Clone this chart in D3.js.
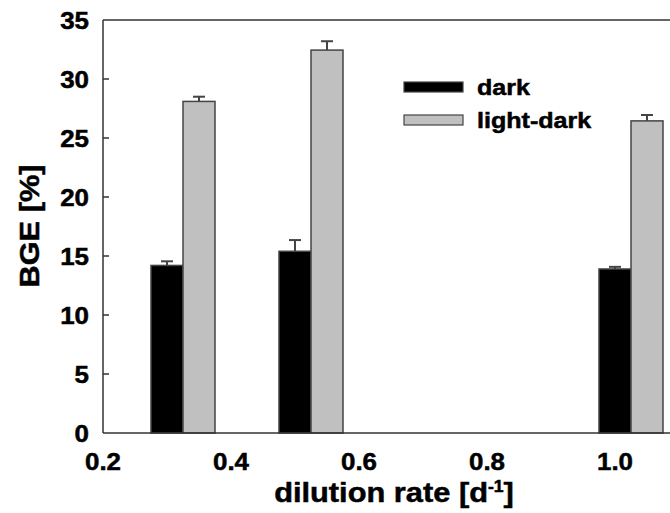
<!DOCTYPE html>
<html><head><meta charset="utf-8">
<script src="https://cdn.jsdelivr.net/npm/d3@7"></script>
<style>html,body{margin:0;padding:0;background:#fff;}svg{display:block;}</style>
</head><body>
<svg id="c" width="670" height="513"></svg>
<script>
const dilution = [0.3, 0.5, 1.0];
const darkValues = [14.2, 15.4, 13.9];
const darkErrors = [0.35, 0.95, 0.18];
const lightValues = [28.1, 32.45, 26.45];
const lightErrors = [0.4, 0.75, 0.5];
const seriesNames = ["dark", "light-dark"];
const yTicks = [0, 5, 10, 15, 20, 25, 30, 35];
const xTicks = [0.2, 0.4, 0.6, 0.8, 1.0];

const svg = d3.select("#c");
const FONT = "'Liberation Sans', Arial, sans-serif";
const x = d3.scaleLinear().domain([0.2, 1.1]).range([103, 679]);
const y = d3.scaleLinear().domain([0, 35]).range([433, 20]);
const barW = 0.05;
const axisCol = "#333";

function stext(g, px, py, str, size, anchor, sx) {
  return g.append("text")
    .attr("transform", `translate(${px},${py}) scale(${sx},1)`)
    .attr("text-anchor", anchor)
    .attr("font-family", FONT).attr("font-weight", "bold")
    .attr("font-size", size).attr("fill", "#000")
    .attr("stroke", "#000").attr("stroke-width", 0.5)
    .text(str);
}

// bars
const series = [
  {name: seriesNames[0], vals: darkValues, errs: darkErrors, off: 0, fill: "#000"},
  {name: seriesNames[1], vals: lightValues, errs: lightErrors, off: barW, fill: "#c0c0c0"}
];
series.forEach(s => {
  dilution.forEach((d, i) => {
    const cx = d + s.off;
    const x0 = x(cx - barW / 2), x1 = x(cx + barW / 2);
    const top = y(s.vals[i]);
    const etop = y(s.vals[i] + s.errs[i]);
    const mx = x(cx);
    svg.append("line").attr("x1", mx).attr("x2", mx).attr("y1", top).attr("y2", etop)
      .attr("stroke", "#444").attr("stroke-width", 2);
    svg.append("line").attr("x1", mx - 6).attr("x2", mx + 6).attr("y1", etop).attr("y2", etop)
      .attr("stroke", "#444").attr("stroke-width", 2);
    svg.append("rect").attr("x", x0).attr("y", top).attr("width", x1 - x0).attr("height", y(0) - top)
      .attr("fill", s.fill).attr("stroke", "#444").attr("stroke-width", 1.5);
  });
});

// frame: left, bottom, top
svg.append("line").attr("x1", x(0.2)).attr("x2", x(0.2)).attr("y1", y(35)).attr("y2", y(0))
  .attr("stroke", axisCol).attr("stroke-width", 1.5);
svg.append("line").attr("x1", x(0.2)).attr("x2", x(1.1)).attr("y1", y(0)).attr("y2", y(0))
  .attr("stroke", axisCol).attr("stroke-width", 1.5);
svg.append("line").attr("x1", x(0.2)).attr("x2", x(1.1)).attr("y1", y(35)).attr("y2", y(35))
  .attr("stroke", axisCol).attr("stroke-width", 1.5);

// y axis ticks & labels
const yg = svg.append("g");
yTicks.forEach(t => {
  if (t > 0 && t < 35) {
    yg.append("line").attr("x1", x(0.2)).attr("x2", x(0.2) + 6).attr("y1", y(t)).attr("y2", y(t))
      .attr("stroke", axisCol).attr("stroke-width", 1.5);
  }
  stext(yg, 89, y(t) + 8.5, String(t), 24, "end", 1.08);
});

// x labels
const xg = svg.append("g");
xTicks.forEach(t => {
  stext(xg, x(t), 470, d3.format(".1f")(t), 24, "middle", 1.08);
});

// axis titles
const xt = svg.append("text")
  .attr("transform", `translate(394,502) scale(1.1,1)`)
  .attr("text-anchor", "middle").attr("font-family", FONT).attr("font-weight", "bold")
  .attr("font-size", 28).attr("stroke", "#000").attr("stroke-width", 0.5);
xt.append("tspan").text("dilution rate [d");
xt.append("tspan").attr("font-size", 16).attr("dy", -10).text("-1");
xt.append("tspan").attr("dy", 10).text("]");

svg.append("text")
  .attr("transform", `translate(39,226) rotate(-90) scale(1.1,1)`)
  .attr("text-anchor", "middle").attr("font-family", FONT).attr("font-weight", "bold")
  .attr("font-size", 28).attr("stroke", "#000").attr("stroke-width", 0.5).text("BGE [%]");

// legend
const lg = svg.append("g");
series.forEach((s, i) => {
  const yy = 82 + i * 33;
  lg.append("rect").attr("x", 404).attr("y", yy).attr("width", 59).attr("height", 10)
    .attr("fill", s.fill).attr("stroke", "#444").attr("stroke-width", 1.2);
  stext(lg, 477, yy + 13, s.name, 22, "start", 1.14);
});
</script>
</body></html>
